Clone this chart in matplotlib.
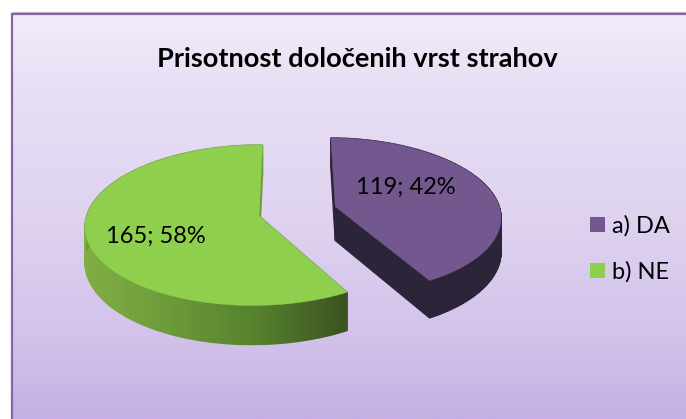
import matplotlib
matplotlib.use("Agg")
import matplotlib.pyplot as plt
import numpy as np
from matplotlib.patches import Patch, Polygon
from matplotlib.colors import LinearSegmentedColormap

plt.rcParams['font.family'] = ['Lato', 'DejaVu Sans']

# Data
title = "Prisotnost določenih vrst strahov"
categories = ["a) DA", "b) NE"]
values = [119, 165]

top_colors = ["#72588F", "#8FCF4E"]
label_pos = [(406, 187), (156, 236)]

# perspective of the 3d pie, in figure pixels
cx, cy = 280, 217.5
fx, fy = 170, 79.4
k = 0.118
m = 0.012
shear = 1.5
depth = 34.5
centre = (0.112, 0.081)
explode = 0.235


def project(X, Y):
    w = 1 + k * Y + m * X
    return cx + fx * X / w + shear * (Y - 1), cy - fy * Y / w, depth / w


def slice_outline(a0, a1):
    # degrees, from the pie centre of the slice
    mid = np.radians((a0 + a1) / 2)
    ox = centre[0] + explode * np.cos(mid)
    oy = centre[1] + explode * np.sin(mid)
    t = np.radians(np.linspace(a0, a1, 200))
    X = np.r_[ox, ox + np.cos(t)]
    Y = np.r_[oy, oy + np.sin(t)]
    return project(X, Y), np.r_[0, np.sin(t)]


fig = plt.figure(figsize=(6.86, 4.19), dpi=100)
ax = fig.add_axes([0, 0, 1, 1])

# background
bg = LinearSegmentedColormap.from_list("bg", [(0, "#F2EDFA"), (0.15, "#E9E1F6"), (0.5, "#DFD3F0"),
                                              (0.8, "#D2C2EA"), (1, "#C4B0E4")])
ax.imshow(np.linspace(0, 1, 256)[:, None], cmap=bg, extent=(12, 686, 419, 14), aspect='auto', zorder=0)
ax.set_xlim(0, 686)
ax.set_ylim(419, 0)
ax.axis('off')
ax.plot([12, 686], [12.5, 12.5], color="#BDBBC2", lw=0.8, zorder=1)
ax.plot([12, 12, 686], [419, 14, 14], color="#8465A8", lw=1.6, zorder=1, solid_joinstyle='miter')

# slices, purple clockwise from the top, green goes on from there
total = sum(values)
start = 90
green_side = LinearSegmentedColormap.from_list("side", ["#80AE44", "#6C9A39", "#55802C", "#3B5320"])
for i, v in enumerate(values):
    end = start - 360 * v / total
    (x, y, d), sin_t = slice_outline(start, end)
    # walls: everything between the top face and the same face pushed down
    front = sin_t < 0
    for j in range(len(x)):
        n = (j + 1) % len(x)
        quad = [(x[j], y[j]), (x[n], y[n]), (x[n], y[n] + d[n]), (x[j], y[j] + d[j])]
        if i == 0:
            c = "#2C2438"
        elif front[j]:
            c = green_side((x[j] - x[front].min()) / (x[front].max() - x[front].min()))
        else:
            c = "#6E9E3C"
        ax.add_patch(Polygon(quad, fc=c, ec=c, lw=1, zorder=2))
    ax.add_patch(Polygon(np.c_[x, y], fc=top_colors[i], ec=top_colors[i], lw=0.3, zorder=3))
    ax.text(label_pos[i][0], label_pos[i][1], f"{v}; {round(100 * v / total)}%",
            ha='center', va='center', fontsize=17, color='black', zorder=4)
    start = end

ax.text(357, 59, title, ha='center', va='center', fontsize=19.6, fontweight='bold', color='black', zorder=4)

handles = [Patch(fc=c, ec='none') for c in top_colors]
ax.legend(handles, categories, loc='center left', bbox_to_anchor=(590 / 686, 1 - 249 / 419), frameon=False,
          fontsize=17, handlelength=0.64, handleheight=0.64, handletextpad=0.3, labelspacing=1.05,
          borderpad=0, borderaxespad=0)

fig.savefig("out.png", dpi=100)
